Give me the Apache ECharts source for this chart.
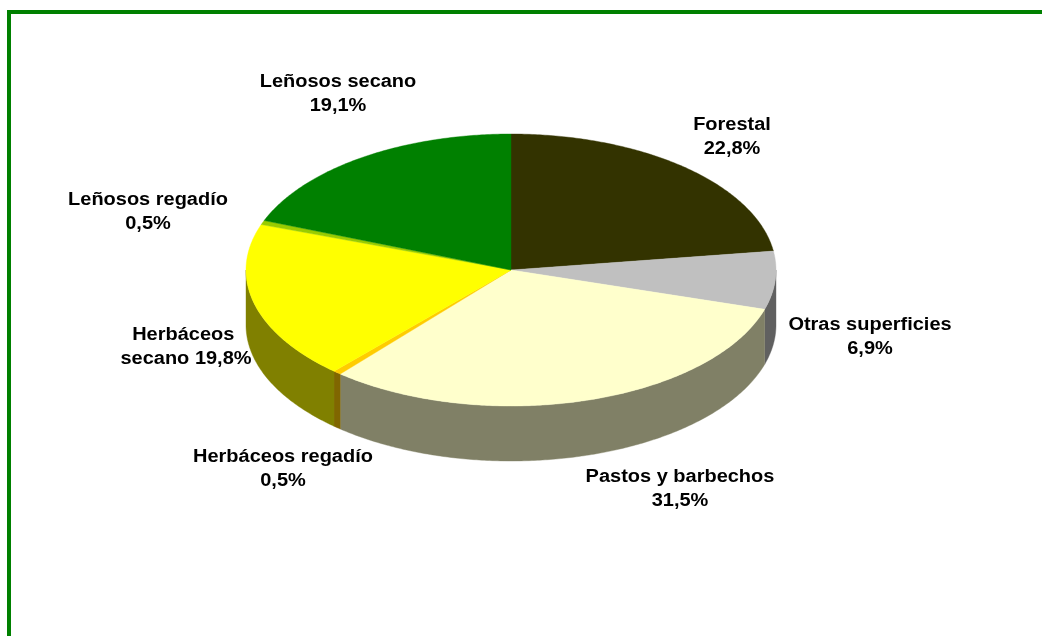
<!DOCTYPE html>
<html><head><meta charset="utf-8">
<script src="https://cdn.jsdelivr.net/npm/echarts@6/dist/echarts.min.js"></script>
<style>
html,body{margin:0;padding:0;background:#fff}
#c{width:1042px;height:636px}
</style></head><body><div id="c"></div>
<script>
// Data
const categories = ['Forestal','Otras superficies','Pastos y barbechos','Herbáceos regadío','Herbáceos secano','Leñosos regadío','Leñosos secano'];
// Slice sizes as drawn (the "Herbáceos secano" wedge is drawn at about 18.8 although printed 19,8%)
const values = [22.8,6.9,31.5,0.5,18.8,0.5,19.1];
const printedLabels = ['Forestal\n22,8%','Otras superficies\n6,9%','Pastos y barbechos\n31,5%','Herbáceos regadío\n0,5%','Herbáceos \nsecano 19,8%','Leñosos regadío\n0,5%','Leñosos secano\n19,1%'];
const colors = ['#333300','#C0C0C0','#FFFFCC','#FFCC00','#FFFF00','#99CC00','#008000'];

// Layout (not data)
const CX=511, CY=270, RX=265, RY=136, DEPTH=55;
const labelAnchors=[[732,137.5],[870,337.5],[680,489.5],[283,469.5],[186,347.5],[148,212.5],[338,94.5]];
const total = values.reduce((a,b)=>a+b,0);
const cum=[]; values.reduce((s,v,i)=>{cum[i]=s;return s+v;},0);
const pt=(a,dy)=>[CX+RX*Math.sin(a),CY-RY*Math.cos(a)+(dy||0)];
const shade=c=>'#'+[1,3,5].map(i=>Math.round(parseInt(c.substr(i,2),16)/2).toString(16).padStart(2,'0')).join('');

function arc(a0,a1,dy){
  const n=Math.max(2,Math.ceil((a1-a0)/0.01)),p=[];
  for(let i=0;i<=n;i++)p.push(pt(a0+(a1-a0)*i/n,dy));
  return p;
}
function renderItem(params,api){
  const i=params.dataIndex, v=api.value(0);
  const a0=cum[i]/total*2*Math.PI, a1=(cum[i]+v)/total*2*Math.PI;
  const col=colors[i], kids=[];
  const s0=Math.max(a0,Math.PI/2), s1=Math.min(a1,3*Math.PI/2);
  if(s1>s0){
    const side=arc(s0,s1,0).concat(arc(s0,s1,DEPTH).reverse());
    kids.push({type:'polygon',shape:{points:side},style:{fill:shade(col),stroke:shade(col),lineWidth:0.4}});
  }
  kids.push({type:'polygon',z2:5,shape:{points:[[CX,CY]].concat(arc(a0,a1,0))},style:{fill:col,stroke:col,lineWidth:0.4}});
  kids.push({type:'text',z2:10,x:labelAnchors[i][0],y:labelAnchors[i][1],scaleX:1.11,style:{
    text:printedLabels[i],align:'center',verticalAlign:'middle',fill:'#000',
    font:'bold 18px "Liberation Sans"',lineHeight:24}});
  return {type:'group',children:kids};
}
const chart=echarts.init(document.getElementById('c'),null,{renderer:'canvas',width:1042,height:636});
chart.setOption({
  animation:false,
  backgroundColor:'#fff',
  graphic:[
    {type:'rect',shape:{x:7,y:10,width:1035,height:4},style:{fill:'#008000'},silent:true},
    {type:'rect',shape:{x:7,y:10,width:4,height:626},style:{fill:'#008000'},silent:true}
  ],
  series:[{type:'custom',coordinateSystem:'none',renderItem,
    data:values.map((v,i)=>({name:categories[i],value:[v]})),silent:true}]
});
</script></body></html>
